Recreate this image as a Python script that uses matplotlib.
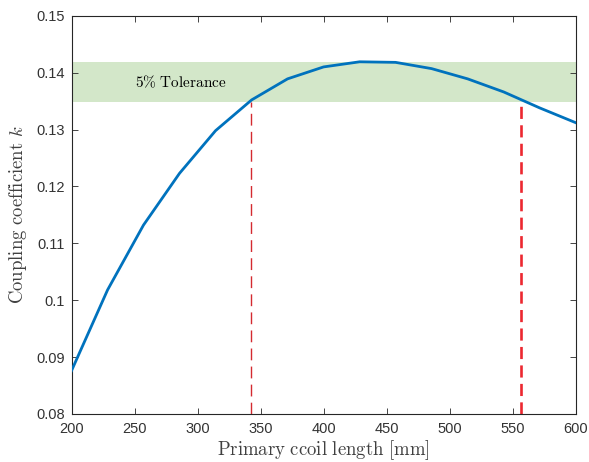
import numpy as np
import matplotlib.pyplot as plt

plt.rcParams['mathtext.fontset'] = 'cm'
plt.rcParams['font.family'] = ['Liberation Sans', 'DejaVu Sans']

# coil length sweep [mm] and simulated coupling coefficient
coil_length = [200.0, 228.6, 257.1, 285.7, 314.3, 342.9, 371.4, 400.0,
               428.6, 457.1, 485.7, 514.3, 542.9, 571.4, 600.0]
coupling_k = [0.0876, 0.1018, 0.1132, 0.1223, 0.1298, 0.1352, 0.1389, 0.1410,
              0.1419, 0.1418, 0.1407, 0.1389, 0.1366, 0.1338, 0.1312]

band_low, band_high = 0.1348, 0.1419   # 5% below the peak
x_low, x_high = 342.3, 556.3           # crossings of the lower band edge

fig = plt.figure(figsize=(5.89, 4.62), dpi=100)
ax = fig.add_axes([0.1214, 0.1039, 0.856, 0.8621])

ax.axhspan(band_low, band_high, color='#d3e7c9', lw=0, zorder=0)
ax.plot(coil_length, coupling_k, color='#0072BD', lw=2, zorder=3)
ax.plot([x_low, x_low], [0.08, band_low], color='#d42a30', lw=1.0,
        dashes=(8.5, 4.5), zorder=2)
ax.plot([x_high, x_high], [0.08, band_low], color='#ec2830', lw=1.9,
        dashes=(4.6, 2.4), zorder=2)

ax.text(250, 0.1384, r'$\mathrm{5\%\ Tolerance}$', fontsize=11, va='center', ha='left')

ax.set_xlim(200, 600)
ax.set_ylim(0.08, 0.15)
ax.set_xticks(np.arange(200, 601, 50))
ax.set_yticks(np.arange(0.08, 0.1501, 0.01))
ax.set_yticklabels(['0.08', '0.09', '0.1', '0.11', '0.12', '0.13', '0.14', '0.15'])

ax.tick_params(direction='in', top=True, right=True, labelsize=10.5,
               length=4, width=0.6, color='#262626', labelcolor='#333333')
ax.tick_params(axis='x', pad=5.5)
ax.tick_params(axis='y', pad=5)
for s in ax.spines.values():
    s.set_color('#262626')
    s.set_linewidth(0.8)

ax.set_xlabel(r'$\mathrm{Primary\ ccoil\ length\ [mm]}$', fontsize=13.5, color='#404040', labelpad=1.5)
ax.set_ylabel(r'$\mathrm{Coupling\ coefficient}\ k$', fontsize=13.5, color='#404040', labelpad=5)

fig.savefig('out.png', dpi=100)
